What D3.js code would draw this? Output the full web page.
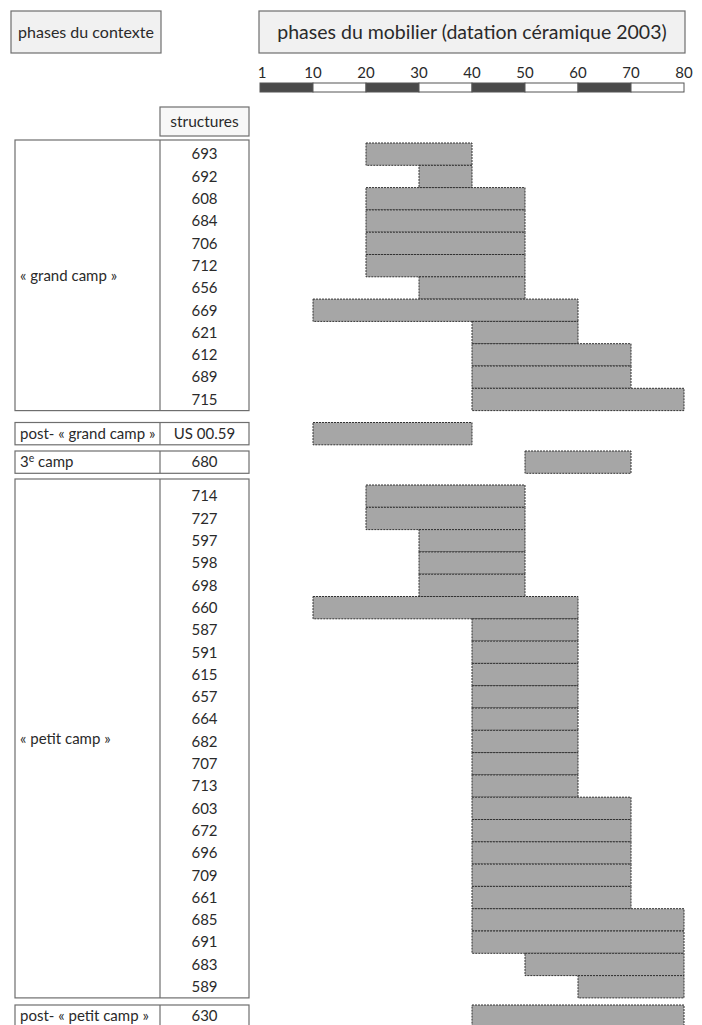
<!DOCTYPE html>
<html><head><meta charset="utf-8">
<script src="https://cdn.jsdelivr.net/npm/d3@7"></script>
<style>
html,body{margin:0;padding:0;background:#fff;}
svg{display:block;}
text{font-family:Lato,"Open Sans",sans-serif;fill:#2a2a2a;}
</style></head>
<body>
<svg id="c" width="702" height="1025"></svg>
<script>
// ---- data ----
const tickValues = [0,10,20,30,40,50,60,70,80];
const tickLabels = ["1","10","20","30","40","50","60","70","80"];

const grandCampIds   = ["693","692","608","684","706","712","656","669","621","612","689","715"];
const grandCampStart = [20,30,20,20,20,20,30,10,40,40,40,40];
const grandCampEnd   = [40,40,50,50,50,50,50,60,60,70,70,80];

const postGrandIds   = ["US 00.59"];
const postGrandStart = [10];
const postGrandEnd   = [40];

const troisIds   = ["680"];
const troisStart = [50];
const troisEnd   = [70];

const petitCampIds   = ["714","727","597","598","698","660","587","591","615","657","664","682","707","713","603","672","696","709","661","685","691","683","589"];
const petitCampStart = [20,20,30,30,30,10,40,40,40,40,40,40,40,40,40,40,40,40,40,40,40,50,60];
const petitCampEnd   = [50,50,50,50,50,60,60,60,60,60,60,60,60,60,70,70,70,70,70,80,80,80,80];

const postPetitIds   = ["630"];
const postPetitStart = [40];
const postPetitEnd   = [80];

// ---- layout ----
const svg = d3.select("#c");
const rowH = 22.3;
const colL = 15, colM = 160, colR = 249;
const x = d3.scaleLinear().domain([0,80]).range([260,684]);
const lineCol = "#6e6e6e";

const groups = [
  {label:"« grand camp »", ids:grandCampIds, s:grandCampStart, e:grandCampEnd, boxTop:140, rowTop:143},
  {label:"post- « grand camp »", ids:postGrandIds, s:postGrandStart, e:postGrandEnd, boxTop:422.5, rowTop:422.5},
  {label:"3e camp", ids:troisIds, s:troisStart, e:troisEnd, boxTop:451, rowTop:451, sup:true},
  {label:"« petit camp »", ids:petitCampIds, s:petitCampStart, e:petitCampEnd, boxTop:479, rowTop:485},
  {label:"post- « petit camp »", ids:postPetitIds, s:postPetitStart, e:postPetitEnd, boxTop:1005, rowTop:1005}
];

// headers
function headBox(x0,x1,y0,y1,txt,fs){
  svg.append("rect").attr("x",x0).attr("y",y0).attr("width",x1-x0).attr("height",y1-y0)
    .attr("fill","#f1f1f1").attr("stroke",lineCol).attr("stroke-width",1.2);
  svg.append("text").attr("x",(x0+x1)/2).attr("y",(y0+y1)/2).attr("dy","0.35em")
    .attr("text-anchor","middle").attr("font-size",fs).text(txt);
}
headBox(11,161,11,53,"phases du contexte",16);
headBox(259,685,11,53,"phases du mobilier (datation céramique 2003)",19.5);

// scale bar
const segs = d3.pairs(tickValues);
svg.append("g").selectAll("rect").data(segs).join("rect")
  .attr("x",d=>x(d[0])).attr("width",d=>x(d[1])-x(d[0]))
  .attr("y",83).attr("height",9)
  .attr("fill",(d,i)=>i%2===0?"#4a4a4a":"#ffffff")
  .attr("stroke","#555").attr("stroke-width",1);
svg.append("g").selectAll("text").data(tickValues).join("text")
  .attr("x",(d,i)=>i===0?x(d)+2:x(d)).attr("y",78)
  .attr("text-anchor","middle").attr("font-size",15)
  .text((d,i)=>tickLabels[i]);

// structures header
svg.append("rect").attr("x",colM).attr("y",107).attr("width",colR-colM).attr("height",29)
  .attr("fill","#f7f7f7").attr("stroke",lineCol).attr("stroke-width",1.2);
svg.append("text").attr("x",(colM+colR)/2).attr("y",121.5).attr("dy","0.35em")
  .attr("text-anchor","middle").attr("font-size",15.5).text("structures");

// groups
groups.forEach(g=>{
  const n = g.ids.length;
  const y = d3.scaleBand().domain(g.ids).range([g.rowTop, g.rowTop+n*rowH]).padding(0);
  const boxBot = g.rowTop+n*rowH;
  svg.append("rect").attr("x",colL).attr("y",g.boxTop).attr("width",colR-colL).attr("height",boxBot-g.boxTop)
    .attr("fill","none").attr("stroke",lineCol).attr("stroke-width",1.2);
  svg.append("line").attr("x1",colM).attr("x2",colM).attr("y1",g.boxTop).attr("y2",boxBot)
    .attr("stroke",lineCol).attr("stroke-width",1.2);
  const lt = svg.append("text").attr("x",20).attr("y",(g.boxTop+boxBot)/2).attr("dy","0.35em")
    .attr("font-size",15);
  if(g.sup){
    lt.append("tspan").text("3");
    lt.append("tspan").attr("dy",-5).attr("font-size",10.5).text("e");
    lt.append("tspan").attr("dy",5).text(" camp");
  } else lt.text(g.label);
  svg.append("g").selectAll("text").data(g.ids).join("text")
    .attr("x",(colM+colR)/2).attr("y",d=>y(d)+y.bandwidth()/2).attr("dy","0.35em")
    .attr("text-anchor","middle").attr("font-size",15).text(d=>d);
  svg.append("g").selectAll("rect").data(g.ids).join("rect")
    .attr("x",(d,i)=>x(g.s[i])).attr("width",(d,i)=>x(g.e[i])-x(g.s[i]))
    .attr("y",d=>y(d)).attr("height",y.bandwidth())
    .attr("fill","#a6a6a6").attr("stroke","#333").attr("stroke-width",1)
    .attr("stroke-dasharray","2,1");
});
</script>
</body></html>
